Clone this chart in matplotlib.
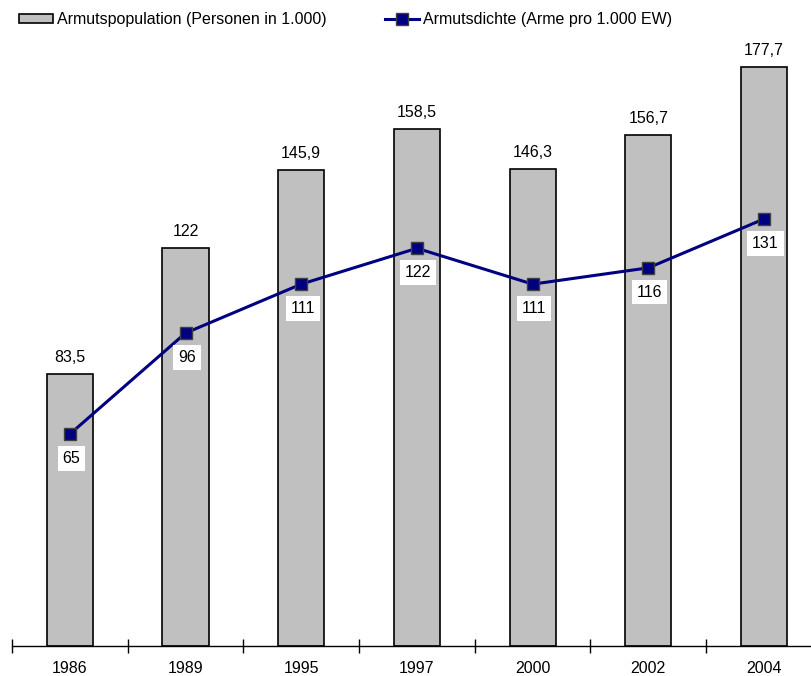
import matplotlib
matplotlib.use("Agg")
import matplotlib.pyplot as plt
from matplotlib.patches import Patch
from matplotlib.lines import Line2D

years = ["1986", "1989", "1995", "1997", "2000", "2002", "2004"]
population = [83.5, 122, 145.9, 158.5, 146.3, 156.7, 177.7]
density = [65, 96, 111, 122, 111, 116, 131]

plt.rcParams["font.family"] = ["Liberation Sans", "DejaVu Sans"]

W, H = 812, 676
fig = plt.figure(figsize=(W / 100, H / 100), dpi=100)

# axes: zero line at y=646 px, 3.26 px per unit, categories 115.7 px apart
y0_px = 646
ppu = 3.26
ymax = 185
left_px = 12
cat_px = 115.7
ax = fig.add_axes([left_px / W, (H - y0_px) / H,
                   7 * cat_px / W, ymax * ppu / H])

x = list(range(len(years)))
bar_gray = "#c0c0c0"
navy = "#000080"
fs = 11.5

ax.bar(x, population, width=0.40, color=bar_gray, edgecolor="black",
       linewidth=1.2, zorder=2)
for xi, v in zip(x, population):
    ax.annotate(f"{v:g}".replace(".", ","), (xi, v), xytext=(0, 12),
                textcoords="offset points", ha="center", va="center",
                fontsize=fs, color="black")

ax.plot(x, density, color=navy, linewidth=2.2, marker="s", markersize=8.5,
        markerfacecolor=navy, markeredgecolor="#404040", markeredgewidth=1.0,
        zorder=3)
for xi, v in zip(x, density):
    ax.annotate(f"{v:g}", (xi, v), xytext=(1, -17.5),
                textcoords="offset points", ha="center", va="center",
                fontsize=fs, color="black", zorder=4,
                bbox=dict(boxstyle="square,pad=0.3", fc="white", ec="none"))

ax.set_xlim(-0.5, 6.5)
ax.set_ylim(0, ymax)
for s in ["top", "right", "left"]:
    ax.spines[s].set_visible(False)
ax.spines["bottom"].set_linewidth(1.0)
ax.set_yticks([])
ax.set_xticks(x)
ax.set_xticklabels(years, fontsize=fs)
ax.tick_params(axis="x", which="major", length=0, pad=11)
ax.set_xticks([i - 0.5 for i in range(len(years) + 1)], minor=True)
ax.tick_params(axis="x", which="minor", length=10, width=1.0,
               direction="inout")

handles = [
    Patch(facecolor=bar_gray, edgecolor="black", linewidth=1.2,
          label="Armutspopulation (Personen in 1.000)"),
    Line2D([], [], color=navy, linewidth=2.2, marker="s", markersize=8.5,
           markerfacecolor=navy, markeredgecolor="#404040",
           label="Armutsdichte (Arme pro 1.000 EW)"),
]
fig.legend(handles=handles, loc="upper left",
           bbox_to_anchor=(19 / W, 1 - 12 / H),
           ncol=2, frameon=False, fontsize=fs, handlelength=2.1,
           handleheight=0.5, handletextpad=0.25, columnspacing=3.7,
           borderaxespad=0, borderpad=0)

fig.savefig("out.png", dpi=100)
